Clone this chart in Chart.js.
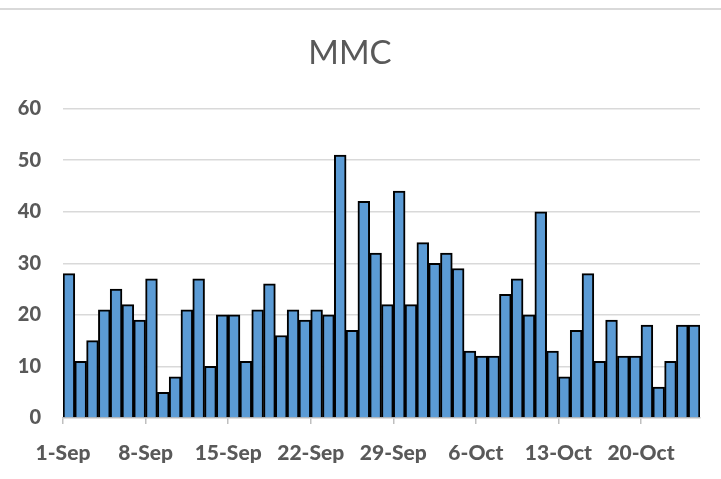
<!DOCTYPE html>
<html>
<head>
<meta charset="utf-8">
<script src="https://cdn.jsdelivr.net/npm/chart.js@4"></script>
<style>
html,body{margin:0;padding:0;background:#fff;}
#wrap{width:721px;height:479px;position:relative;}
</style>
</head>
<body>
<div id="wrap"><canvas id="c" width="721" height="479"></canvas></div>
<script>
const categories = [
 '1-Sep','2-Sep','3-Sep','4-Sep','5-Sep','6-Sep','7-Sep','8-Sep','9-Sep','10-Sep',
 '11-Sep','12-Sep','13-Sep','14-Sep','15-Sep','16-Sep','17-Sep','18-Sep','19-Sep','20-Sep',
 '21-Sep','22-Sep','23-Sep','24-Sep','25-Sep','26-Sep','27-Sep','28-Sep','29-Sep','30-Sep',
 '1-Oct','2-Oct','3-Oct','4-Oct','5-Oct','6-Oct','7-Oct','8-Oct','9-Oct','10-Oct',
 '11-Oct','12-Oct','13-Oct','14-Oct','15-Oct','16-Oct','17-Oct','18-Oct','19-Oct','20-Oct',
 '21-Oct','22-Oct','23-Oct','24-Oct'
];
const mmcValues = [
 28,11,15,21,25,22,19,27,5,8,
 21,27,10,20,20,11,21,26,16,21,
 19,21,20,51,17,42,32,22,44,22,
 34,30,32,29,13,12,12,24,27,20,
 40,13,8,17,28,11,19,12,12,18,
 6,11,18,18
];
const tickLabelsShown = ['1-Sep','8-Sep','15-Sep','22-Sep','29-Sep','6-Oct','13-Oct','20-Oct'];
const chartTitle = 'MMC';

const topBorder = {
  id:'topBorder',
  beforeDraw(chart){
    const ctx = chart.ctx;
    ctx.save();
    ctx.fillStyle = '#fff';
    ctx.fillRect(0,0,chart.width,chart.height);
    ctx.strokeStyle = '#d9d9d9';
    ctx.lineWidth = 2;
    ctx.beginPath();
    ctx.moveTo(0,9); ctx.lineTo(chart.width,9);
    ctx.stroke();
    ctx.restore();
  }
};

new Chart(document.getElementById('c'), {
  type:'bar',
  data:{
    labels:categories,
    datasets:[{
      data:mmcValues,
      backgroundColor:'#5b9bd5',
      borderColor:'#000',
      borderWidth:2,
      barPercentage:1,
      categoryPercentage:1
    }]
  },
  options:{
    responsive:false,
    animation:false,
    layout:{padding:{left:0,right:21,top:0,bottom:0}},
    plugins:{
      legend:{display:false},
      tooltip:{enabled:false},
      title:{
        display:true,
        text:chartTitle,
        color:'#595959',
        font:{family:'Lato',size:33,weight:'normal'},
        padding:{top:34,bottom:35}
      }
    },
    scales:{
      x:{
        offset:true,
        grid:{
          offset:true,
          drawOnChartArea:false,
          drawTicks:true,
          tickLength:6,
          color:(c)=> (c.index % 7 === 0 ? '#bfbfbf' : 'rgba(0,0,0,0)'),
          lineWidth:1.5
        },
        border:{display:true,color:'#bfbfbf',width:1.5},
        ticks:{
          autoSkip:false,
          maxRotation:0,
          minRotation:0,
          color:'#595959',
          font:{family:'Lato',size:21,weight:'900'},
          padding:17,
          labelOffset:-5.9,
          callback:function(v,i){
            const l = categories[i];
            return tickLabelsShown.includes(l) ? l : '';
          }
        },
        afterFit(s){ s.height = 61; }
      },
      y:{
        min:0,max:60,
        grid:{
          color:(c)=> (c.tick && c.tick.value===0 ? 'rgba(0,0,0,0)' : '#d9d9d9'),
          lineWidth:1.5,
          drawTicks:false
        },
        border:{display:false},
        ticks:{
          stepSize:10,
          color:'#595959',
          font:{family:'Lato',size:20,weight:'900'},
          padding:22
        },
        afterFit(s){ s.width = 63; }
      }
    }
  },
  plugins:[topBorder]
});
</script>
</body>
</html>
